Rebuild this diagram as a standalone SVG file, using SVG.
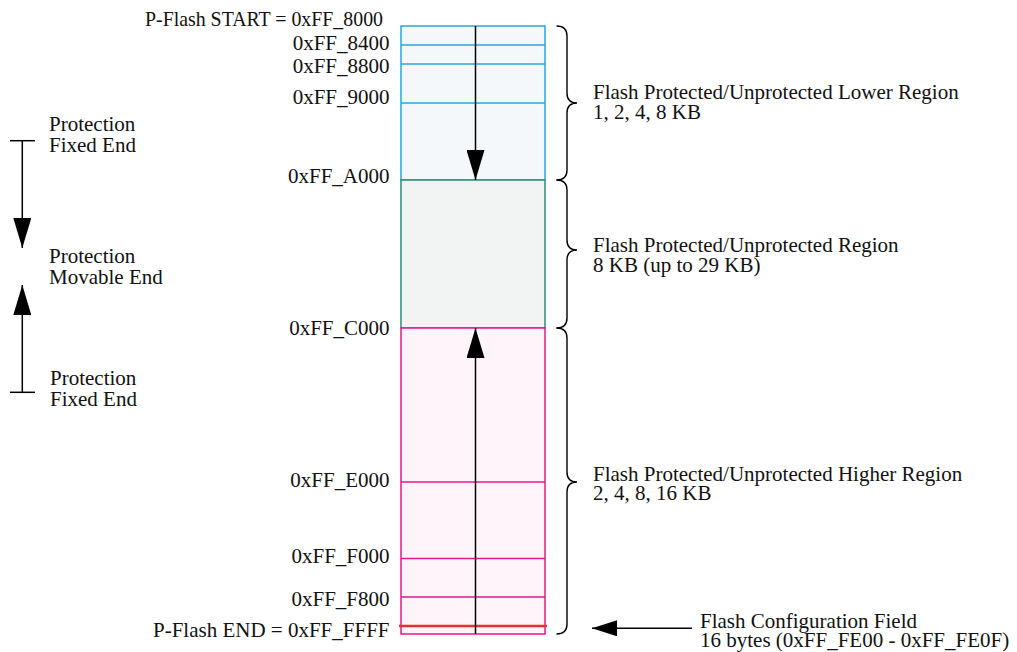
<svg xmlns="http://www.w3.org/2000/svg" width="1017" height="652" viewBox="0 0 1017 652">
<style>
text{font-family:"Liberation Serif","Times New Roman",serif;font-size:21px;fill:#111}
.r{text-anchor:end}
.ln{stroke:#000;stroke-width:1.5;fill:none}
.br{stroke:#000;stroke-width:1.4;fill:none}
.blue{stroke:#2aa6dc;stroke-width:1.5}
.green{stroke:#2e8b7a;stroke-width:1.5}
.pink{stroke:#e6198c;stroke-width:1.5}
</style>
<defs>
<marker id="ah" viewBox="0 0 30 18" refX="30" refY="9" markerWidth="30" markerHeight="18" markerUnits="userSpaceOnUse" orient="auto">
<path d="M0,0 L30,9 L0,18 Z" fill="#000"/>
</marker>
<marker id="ahs" viewBox="0 0 25 16" refX="25" refY="8" markerWidth="25" markerHeight="16" markerUnits="userSpaceOnUse" orient="auto">
<path d="M0,0 L25,8 L0,16 Z" fill="#000"/>
</marker>
</defs>
<rect width="1017" height="652" fill="#fff"/>
<g id="lower-region">
<rect x="401" y="26" width="144" height="154" fill="#f4f8fb" class="blue"/>
<line x1="401" y1="45" x2="545" y2="45" class="blue"/>
<line x1="401" y1="64" x2="545" y2="64" class="blue"/>
<line x1="401" y1="103" x2="545" y2="103" class="blue"/>
</g>
<g id="middle-region">
<rect x="401" y="180" width="144" height="148" fill="#f2f4f3" class="green"/>
</g>
<g id="higher-region">
<rect x="401" y="328" width="144" height="306" fill="#fef4f9" class="pink"/>
<line x1="401" y1="482" x2="545" y2="482" class="pink"/>
<line x1="401" y1="558.5" x2="545" y2="558.5" class="pink"/>
<line x1="401" y1="597" x2="545" y2="597" class="pink"/>
<line x1="399" y1="626" x2="547" y2="626" stroke="#e8312f" stroke-width="2.5"/>
</g>
<g id="addresses">
<text x="383" y="26" class="r" textLength="238" lengthAdjust="spacingAndGlyphs">P-Flash START = 0xFF_8000</text>
<text x="389.5" y="50" class="r">0xFF_8400</text>
<text x="389.5" y="73" class="r">0xFF_8800</text>
<text x="389.5" y="104" class="r">0xFF_9000</text>
<text x="389.5" y="182.5" class="r">0xFF_A000</text>
<text x="389.5" y="335" class="r">0xFF_C000</text>
<text x="389.5" y="486.5" class="r">0xFF_E000</text>
<text x="389.5" y="563" class="r">0xFF_F000</text>
<text x="389.5" y="605.5" class="r">0xFF_F800</text>
<text x="389.5" y="636.5" class="r">P-Flash END = 0xFF_FFFF</text>
</g>
<g id="region-labels">
<text x="593" y="98.5">Flash Protected/Unprotected Lower Region</text>
<text x="593" y="118.5">1, 2, 4, 8 KB</text>
<text x="593" y="252">Flash Protected/Unprotected Region</text>
<text x="593" y="271.5">8 KB (up to 29 KB)</text>
<text x="593" y="480.5">Flash Protected/Unprotected Higher Region</text>
<text x="593" y="500">2, 4, 8, 16 KB</text>
<text x="700" y="628">Flash Configuration Field</text>
<text x="700" y="647">16 bytes (0xFF_FE00 - 0xFF_FE0F)</text>
</g>
<g id="protection-labels">
<text x="49" y="131">Protection</text>
<text x="49" y="152">Fixed End</text>
<text x="49" y="263">Protection</text>
<text x="49" y="284">Movable End</text>
<text x="50" y="385">Protection</text>
<text x="50" y="406">Fixed End</text>
</g>
<g id="connectors">
<line x1="475.5" y1="26" x2="475.5" y2="180" class="ln" marker-end="url(#ah)"/>
<line x1="475.5" y1="634" x2="475.5" y2="328" class="ln" marker-end="url(#ah)"/>
<line x1="10" y1="140.7" x2="35" y2="140.7" class="ln"/>
<line x1="22.3" y1="140.7" x2="22.3" y2="248" class="ln" marker-end="url(#ah)"/>
<line x1="10" y1="392.3" x2="35" y2="392.3" class="ln"/>
<line x1="22.3" y1="392.3" x2="22.3" y2="285" class="ln" marker-end="url(#ah)"/>
<line x1="692" y1="628.3" x2="592" y2="628.3" class="ln" marker-end="url(#ahs)"/>
<path class="br" d="M556.5,26 Q567,26 567,36 L567,93 Q567,103 577,103 Q567,103 567,113 L567,170 Q567,180 556.5,180"/>
<path class="br" d="M556.5,180 Q567,180 567,190 L567,240 Q567,250 577,250 Q567,250 567,260 L567,318 Q567,328 556.5,328"/>
<path class="br" d="M556.5,328 Q567,328 567,338 L567,472 Q567,482 577,482 Q567,482 567,492 L567,624 Q567,634 556.5,634"/>
</g>
</svg>
